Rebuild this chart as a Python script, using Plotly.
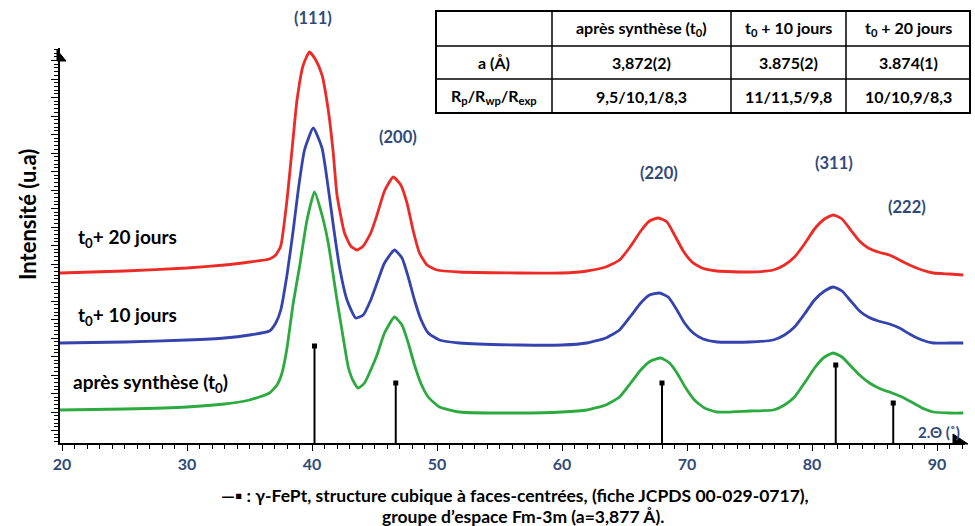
import plotly.graph_objects as go

# ---------------- data (2θ in degrees, intensity in arbitrary units) ----------------
red_x = [19.84, 25.0, 30.0, 33.0, 35.0, 36.6, 37.1, 37.5, 38.0, 38.4, 38.8, 39.3, 39.8, 40.3, 40.8,
         41.3, 41.7, 42.0, 42.6, 43.1, 43.6, 44.1, 44.7, 45.2, 45.8, 46.5, 47.1, 47.6, 48.1, 48.6,
         49.2, 50.0, 51.8, 56.6, 60.0, 62.0, 63.5, 64.6, 65.5, 66.3, 67.0, 67.7, 68.4, 69.0, 69.7,
         70.4, 71.2, 72.4, 75.0, 76.9, 77.8, 78.6, 79.4, 80.2, 81.0, 81.7, 82.4, 83.1, 83.8, 84.5,
         85.3, 86.2, 87.0, 87.8, 88.8, 89.7, 91.0, 92.1]
red_y = [170, 172, 175, 178, 181, 184, 188, 197, 243, 293, 343, 378, 391, 383, 368,
         333, 290, 248, 210, 197, 193, 197, 210, 228, 252, 266, 258, 240, 212, 190,
         178, 173, 171, 170, 170, 172, 176, 183, 197, 212, 222, 225, 221, 208, 192,
         181, 175, 172, 171, 173, 178, 186, 199, 214, 224, 228, 224, 213, 202, 195,
         191, 188, 183, 178, 173, 170, 169, 168]

blue_x = [19.84, 25.0, 30.0, 33.0, 35.0, 36.6, 37.1, 37.5, 38.0, 38.5, 38.9, 39.4, 40.1, 40.8, 41.3,
          41.7, 42.2, 42.8, 43.5, 44.1, 44.7, 45.2, 45.8, 46.6, 47.2, 47.7, 48.2, 48.7, 49.3, 50.2,
          51.8, 56.6, 60.0, 62.0, 63.5, 64.6, 65.5, 66.3, 67.0, 67.8, 68.5, 69.1, 69.8, 70.5, 71.3,
          72.4, 75.0, 76.9, 77.8, 78.6, 79.4, 80.2, 81.0, 81.7, 82.4, 83.1, 83.8, 84.5, 85.3, 86.2,
          87.0, 87.8, 88.8, 89.7, 91.0, 92.1]
blue_y = [100, 101, 103, 105, 108, 112, 120, 133, 168, 213, 253, 293, 315, 295, 255,
          218, 176, 143, 125, 128, 143, 160, 180, 193, 185, 166, 143, 124, 110, 103,
          100, 98, 98, 100, 105, 113, 127, 140, 148, 150, 146, 135, 120, 110, 104,
          101, 101, 103, 108, 116, 129, 143, 152, 156, 152, 142, 132, 126, 122, 119,
          115, 109, 103, 100, 100, 100]

green_x = [19.84, 25.0, 30.0, 33.0, 35.0, 36.6, 37.2, 37.6, 38.0, 38.5, 39.0, 39.6, 40.2, 40.8, 41.3,
           42.0, 42.5, 42.9, 43.3, 43.7, 44.2, 44.7, 45.2, 45.8, 46.6, 47.2, 47.7, 48.2, 48.7, 49.3,
           50.2, 51.8, 56.6, 60.0, 62.0, 63.5, 64.6, 65.5, 66.3, 67.1, 67.9, 68.6, 69.2, 69.9, 70.6,
           71.4, 72.4, 75.0, 76.9, 77.8, 78.6, 79.4, 80.2, 81.0, 81.7, 82.4, 83.1, 83.8, 84.6, 85.5,
           86.4, 87.2, 88.1, 89.0, 89.7, 91.0, 92.1]
green_y = [33, 34, 36, 39, 43, 50, 58, 70, 95, 140, 176, 223, 251, 228, 200,
           143, 105, 76, 62, 55, 60, 73, 88, 110, 126, 118, 100, 78, 60, 46,
           36, 31, 30, 31, 33, 38, 46, 60, 73, 82, 85, 80, 70, 55, 43,
           35, 31, 32, 33, 38, 46, 60, 75, 86, 90, 86, 77, 68, 60, 54,
           50, 46, 40, 34, 31, 30, 30]

# JCPDS 00-029-0717 reference lines (γ-FePt)
ref_pos = [40.2, 46.7, 68.0, 81.9, 86.5]
ref_int = [97, 60, 60, 78, 40]

peak_labels = ["(111)", "(200)", "(220)", "(311)", "(222)"]
peak_label_x = [40.1, 46.9, 67.8, 81.8, 87.6]
peak_label_y = [425, 306, 270, 280, 236]

x_tick_vals = [20, 30, 40, 50, 60, 70, 80, 90]
x_tick_text = ["20", "30", "40", "50", "60", "70", "80", "90"]

table_header = ["", "après synthèse (t<sub>0</sub>)", "t<sub>0</sub> + 10 jours", "t<sub>0</sub> + 20 jours"]
table_row_a = ["a (Å)", "3,872(2)", "3.875(2)", "3.874(1)"]
table_row_r = ["R<sub>p</sub>/R<sub>wp</sub>/R<sub>exp</sub>", "9,5/10,1/8,3", "11/11,5/9,8", "10/10,9/8,3"]

# ---------------- layout geometry ----------------
W, H = 975, 526
L, R, T, B = 60, 10, 48, 83
PW, PH = W - L - R, H - T - B
X0, X1 = 19.84, 19.84 + PW / 12.5
Y0, Y1 = 0, PH


def px(xp):
    return (xp - L) / PW


def py(yp):
    return (H - B - yp) / PH


FONT = "Lato, 'Open Sans', sans-serif"
BLUE_TXT = "#2F4A7A"


def note(x, y, text, size, color="black", xanchor="center", yanchor="middle", **kw):
    fig.add_annotation(x=x, y=y, xref="paper", yref="paper", text=text, showarrow=False,
                       xanchor=xanchor, yanchor=yanchor,
                       font=dict(family=FONT, size=size, color=color), **kw)


fig = go.Figure()

series = [
    (red_x, red_y, "#EC2B27", "t0 + 20 jours"),
    (blue_x, blue_y, "#3443AE", "t0 + 10 jours"),
    (green_x, green_y, "#2DAA3F", "après synthèse (t0)"),
]
for xs, ys, col, name in series:
    fig.add_trace(go.Scatter(x=xs, y=ys, mode="lines", name=name,
                             line=dict(color=col, width=2.8, shape="spline", smoothing=0.5),
                             showlegend=False, hoverinfo="skip"))

# reference sticks
sx, sy = [], []
for p, v in zip(ref_pos, ref_int):
    sx += [p, p, None]
    sy += [0, v, None]
fig.add_trace(go.Scatter(x=sx, y=sy, mode="lines", line=dict(color="black", width=2),
                         showlegend=False, hoverinfo="skip"))
fig.add_trace(go.Scatter(x=ref_pos, y=ref_int, mode="markers",
                         marker=dict(symbol="square", size=5, color="black"),
                         showlegend=False, hoverinfo="skip"))

# peak labels (positions in data units converted to paper)
for t, x, y in zip(peak_labels, peak_label_x, peak_label_y):
    note((x - X0) / (X1 - X0), (y - Y0) / (Y1 - Y0), "<b>" + t + "</b>", 16.5, BLUE_TXT)

# series labels
note(px(76), py(238), "<b>t<sub>0</sub>+ 20 jours</b>", 19, xanchor="left")
note(px(76), py(316), "<b>t<sub>0</sub>+ 10 jours</b>", 19, xanchor="left")
note(px(71), py(383), "<b>après synthèse (t<sub>0</sub>)</b>", 19, xanchor="left")

# y title
note(px(27), py(215), "<b>Intensité (u.a)</b>", 22, textangle=-90)

# x axis label
note(px(962), py(432), "<b>2.Θ (˚)</b>", 15, BLUE_TXT, xanchor="right")

# caption
note(px(515), py(495), "<b>—▪ : γ-FePt, structure cubique à faces-centrées, (fiche JCPDS 00-029-0717),</b>", 17.5)
note(px(523), py(516), "<b>groupe d’espace Fm-3m (a=3,877 Å).</b>", 17.5)

# axis arrows
fig.add_shape(type="path", xref="paper", yref="paper",
              path=f"M {px(57)} {py(50)} L {px(66)} {py(61)} L {px(57)} {py(61)} Z",
              fillcolor="black", line=dict(color="black", width=1))
fig.add_shape(type="path", xref="paper", yref="paper",
              path=f"M {px(953)} {py(434)} L {px(968)} {py(444)} L {px(953)} {py(444)} Z",
              fillcolor="black", line=dict(color="black", width=1))

# table
col_x = [436, 552, 731, 846, 970]
row_y = [11, 46, 79, 113]
fig.add_shape(type="rect", xref="paper", yref="paper",
              x0=px(col_x[0]), x1=px(col_x[-1]), y0=py(row_y[0]), y1=py(row_y[-1]),
              line=dict(color="black", width=2), fillcolor="white")
for cx in col_x[1:-1]:
    fig.add_shape(type="line", xref="paper", yref="paper", x0=px(cx), x1=px(cx),
                  y0=py(row_y[0]), y1=py(row_y[-1]), line=dict(color="black", width=1.5))
for ry in row_y[1:-1]:
    fig.add_shape(type="line", xref="paper", yref="paper", x0=px(col_x[0]), x1=px(col_x[-1]),
                  y0=py(ry), y1=py(ry), line=dict(color="black", width=1.5))
for r, row in enumerate([table_header, table_row_a, table_row_r]):
    yc = (row_y[r] + row_y[r + 1]) / 2
    for c, txt in enumerate(row):
        if not txt:
            continue
        xc = (col_x[c] + col_x[c + 1]) / 2
        note(px(xc), py(yc), "<b>" + txt + "</b>", 16)

fig.update_layout(
    width=W, height=H,
    margin=dict(l=L, r=R, t=T, b=B, pad=0),
    paper_bgcolor="white", plot_bgcolor="white",
    xaxis=dict(range=[X0, X1], showgrid=False, zeroline=False,
               showline=True, linecolor="black", linewidth=2,
               tickmode="array", tickvals=x_tick_vals, ticktext=x_tick_text,
               ticks="outside", ticklen=6, tickwidth=1.2, tickcolor="black",
               minor=dict(dtick=1, ticks="outside", ticklen=3.5, tickwidth=1, tickcolor="black"),
               tickfont=dict(family=FONT, size=16, color=BLUE_TXT, weight="bold")),
    yaxis=dict(range=[Y0, Y1], showgrid=False, zeroline=False,
               showline=True, linecolor="black", linewidth=2,
               tick0=12.5, dtick=18.5, ticks="outside", ticklen=7, tickwidth=1, tickcolor="black",
               showticklabels=False,
               minor=dict(tick0=12.5, dtick=3.7, ticks="outside", ticklen=4, tickwidth=1, tickcolor="black")),
)

fig.write_html("out.html", config={"displayModeBar": False},
               post_script="document.body.style.margin='0px';")
